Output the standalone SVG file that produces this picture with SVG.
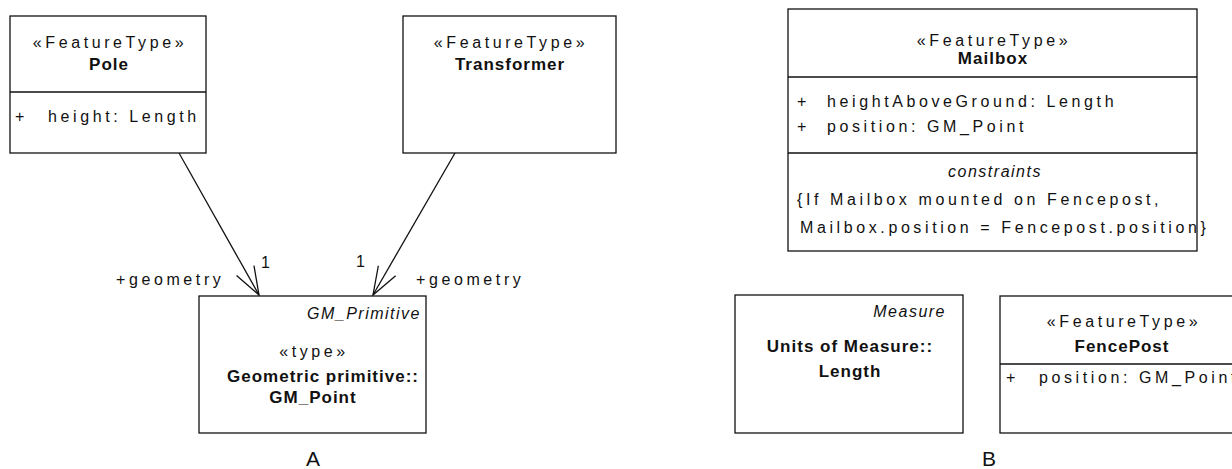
<svg xmlns="http://www.w3.org/2000/svg" width="1232" height="469" viewBox="0 0 1232 469">
<style>
text{font-family:"Liberation Sans",Arial,Helvetica,sans-serif;fill:#111}
.r{font-size:16px;letter-spacing:3.6px}
.b{font-size:17px;font-weight:bold;letter-spacing:1px}
.i{font-size:16px;font-style:italic;letter-spacing:1.5px}
.c{text-anchor:middle}
.e{text-anchor:end}
.big{font-size:21px;letter-spacing:0}
.box{fill:#fff;stroke:#111;stroke-width:1.3}
.div{stroke:#111;stroke-width:1.3}
.con{stroke:#111;stroke-width:1.3;fill:none}
</style>
<defs>
<marker id="open" markerUnits="userSpaceOnUse" viewBox="-32 -14 34 28" refX="0" refY="0" markerWidth="34" markerHeight="28" orient="auto" overflow="visible">
<path d="M-28,-10 L0,0 L-28,10" fill="none" stroke="#111" stroke-width="1.3"/>
</marker>
</defs>
<rect width="1232" height="469" fill="#fff"/>
<g id="connectors">
<line class="con" x1="179" y1="153" x2="259" y2="295" marker-end="url(#open)"/>
<line class="con" x1="455" y1="153" x2="373" y2="295" marker-end="url(#open)"/>
<text class="r" x="116" y="285">+geometry</text>
<text class="r" x="261" y="268">1</text>
<text class="r" x="356" y="267">1</text>
<text class="r" x="416" y="285">+geometry</text>
</g>
<g id="pole">
<rect class="box" x="10" y="16" width="196" height="137"/>
<line class="div" x1="10" y1="92" x2="206" y2="92"/>
<text class="r c" x="110" y="48">«FeatureType»</text>
<text class="b c" x="109" y="70">Pole</text>
<text class="r" x="15" y="122">+</text>
<text class="r" x="48" y="122">height: Length</text>
</g>
<g id="transformer">
<rect class="box" x="403" y="16" width="213" height="137"/>
<text class="r c" x="511" y="48">«FeatureType»</text>
<text class="b c" x="510" y="70">Transformer</text>
</g>
<g id="gmpoint">
<rect class="box" x="199" y="296" width="227" height="137"/>
<text class="i e" x="421" y="319">GM_Primitive</text>
<text class="r c" x="314" y="357">«type»</text>
<text class="b c" x="323" y="382">Geometric primitive::</text>
<text class="b c" x="313" y="403">GM_Point</text>
</g>
<text class="r big c" x="313" y="466">A</text>
<g id="mailbox">
<rect class="box" x="788" y="9" width="409" height="242"/>
<line class="div" x1="788" y1="77" x2="1197" y2="77"/>
<line class="div" x1="788" y1="153" x2="1197" y2="153"/>
<text class="r c" x="994" y="46">«FeatureType»</text>
<text class="b c" x="993" y="64">Mailbox</text>
<text class="r" x="797" y="107">+</text>
<text class="r" x="827" y="107">heightAboveGround: Length</text>
<text class="r" x="797" y="132">+</text>
<text class="r" x="827" y="132">position: GM_Point</text>
<text class="i c" x="995" y="177">constraints</text>
<text class="r" x="797" y="205">{If Mailbox mounted on Fencepost,</text>
<text class="r" x="800" y="233">Mailbox.position = Fencepost.position}</text>
</g>
<g id="length">
<rect class="box" x="735" y="295" width="228" height="138"/>
<text class="i e" x="946" y="317">Measure</text>
<text class="b c" x="850" y="352">Units of Measure::</text>
<text class="b c" x="850" y="377">Length</text>
</g>
<g id="fencepost">
<rect class="box" x="1000" y="296" width="245" height="137"/>
<line class="div" x1="1000" y1="364" x2="1245" y2="364"/>
<text class="r c" x="1124" y="327">«FeatureType»</text>
<text class="b c" x="1122" y="352">FencePost</text>
<text class="r" x="1006" y="383">+</text>
<text class="r" x="1039" y="383">position: GM_Point</text>
</g>
<text class="r big c" x="989" y="466">B</text>
</svg>
